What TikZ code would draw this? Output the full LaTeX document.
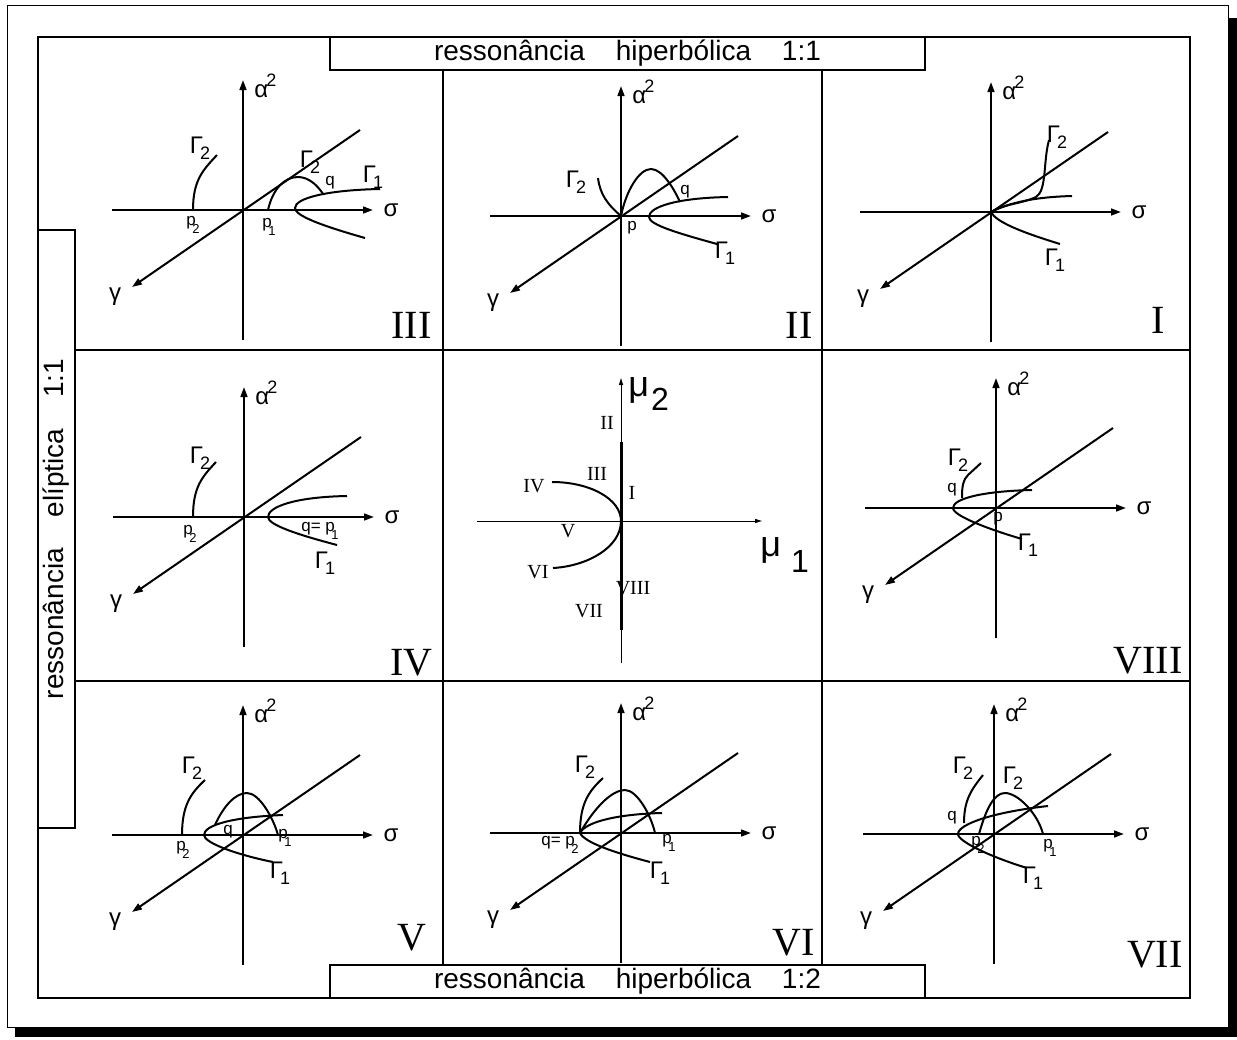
\documentclass[tikz,border=0pt]{standalone}
\usepackage{fontspec}
\setmainfont{Liberation Sans}
\newfontfamily\romanfont{Liberation Serif}
\usetikzlibrary{arrows.meta, positioning}

\newcommand\Gam[1]{Γ\kern-0.12em\raisebox{-0.5ex}{\fontsize{9}{9}\selectfont #1}}
\newcommand\psub[2]{#1\kern-0.2em\raisebox{-0.8ex}{\fontsize{6.5}{6.5}\selectfont #2}}

\begin{document}
\begin{tikzpicture}[
    x=0.5pt, y=-0.5pt,
    axis/.style={line width=1pt, -{Triangle[length=5pt, width=3.4pt]}},
    thinaxis/.style={line width=0.5pt, -{Triangle[length=3.5pt, width=2pt]}},
    curve/.style={line width=1pt},
    gridline/.style={line width=1.1pt},
    lbl/.style={inner sep=0pt, font=\fontsize{12}{12}\selectfont},
    ptlbl/.style={inner sep=0pt, font=\fontsize{8.5}{8.5}\selectfont},
    bigroman/.style={inner sep=0pt, anchor=base east, font=\romanfont\fontsize{20}{20}\selectfont},
    smallroman/.style={inner sep=0pt, font=\romanfont\fontsize{10}{10}\selectfont},
    mulbl/.style={inner sep=0pt, anchor=base west, font=\fontsize{18}{18}\selectfont},
    labelbox/.style={draw, fill=white, line width=1.1pt, inner sep=0pt, font=\fontsize{14}{14}\selectfont},
    axes/.pic={
        \draw[axis] (0,130) -- (0,-130);
        \draw[axis] (-131,0) -- (130,0);
        \draw[axis] (117,-80) -- (-111,77);
        \node[lbl, anchor=west] (alpha) at (11,-124) {α\kern-0.08em\raisebox{0.85ex}{\fontsize{9}{9}\selectfont 2}};
        \node[lbl] (sigma) at (148,0) {σ};
        \node[lbl] (gamma) at (-128,87) {γ};
    },
]
\useasboundingbox (0,0) rectangle (1237,1039);

% page with shadow
\fill (15,1028) rectangle (1237,1037);
\fill (1229,18) rectangle (1237,1037);
\draw[line width=0.5pt] (7,5) rectangle (1228,1027);

% grid
\draw[gridline] (38,37) rectangle (1190,998);
\draw[gridline] (443,37) -- (443,998);
\draw[gridline] (822,37) -- (822,998);
\draw[gridline] (38,350) -- (1190,350);
\draw[gridline] (38,681) -- (1190,681);

\node[labelbox, minimum width=297.5pt, minimum height=16.5pt] (hyptop) at (627.5,53.5) {ressonância\hspace{1.1em}hiperbólica\hspace{1.1em}1:1};
\node[labelbox, minimum width=297.5pt, minimum height=16.5pt] (hypbot) at (627.5,981.5) {ressonância\hspace{1.1em}hiperbólica\hspace{1.1em}1:2};
\node[labelbox, rotate=90, minimum width=299pt, minimum height=18.5pt] (ell) at (56.5,529) {ressonância\hspace{1.1em}elíptica\hspace{1.1em}1:1};

% III
\pic (pIII) at (243,210) {axes};
\begin{scope}[shift={(243,210)}]
\draw[curve] (-50,0) .. controls (-50,-30) and (-40,-40) .. (-26,-55);
\draw[curve] (25,0) .. controls (30,-22) and (42,-33) .. (55,-33) .. controls (66,-33) and (75,-24) .. (80,-16);
\draw[curve] (137,-21) .. controls (85,-20) and (52,-12) .. (52,-2) .. controls (52,6) and (80,16) .. (122,28);
\node[lbl] (g2a) at (-43,-62) {\Gam{2}};
\node[lbl] (g2b) at (67,-48) {\Gam{2}};
\node[lbl] (g1) at (130,-33) {\Gam{1}};
\node[ptlbl] (q) at (87,-27) {q};
\node[ptlbl] (p2) at (-50,15) {\psub{p}{2}};
\node[ptlbl] (p1) at (26,17) {\psub{p}{1}};
\end{scope}
\node[bigroman] (rIII) at (432,338) {III};

% II
\pic (pII) at (621,216) {axes};
\begin{scope}[shift={(621,216)}]
\draw[curve] (-23,-38) .. controls (-21,-22) and (-14,-12) .. (0,0);
\draw[curve] (0,0) .. controls (5,-25) and (18,-47) .. (30,-47) .. controls (42,-47) and (54,-25) .. (59,-14);
\draw[curve] (107,-19) .. controls (55,-18) and (28,-9) .. (28,1) .. controls (28,9) and (60,18) .. (96,28);
\node[lbl] (g2) at (-45,-34) {\Gam{2}};
\node[lbl] (g1) at (104,37) {\Gam{1}};
\node[ptlbl] (q) at (64,-24) {q};
\node[ptlbl] (p) at (11,12) {p};
\end{scope}
\node[bigroman] (rII) at (813,338) {II};

% I
\pic (pI) at (991,212) {axes};
\begin{scope}[shift={(991,212)}]
\draw[curve] (58,-72) .. controls (52,-50) and (56,-22) .. (45,-15) .. controls (30,-8) and (12,-8) .. (0,0);
\draw[curve] (0,0) .. controls (20,-10) and (45,-15) .. (81,-16);
\draw[curve] (0,0) .. controls (5,10) and (30,20) .. (69,32);
\node[lbl] (g2) at (66,-75) {\Gam{2}};
\node[lbl] (g1) at (64,48) {\Gam{1}};
\end{scope}
\node[bigroman] (rI) at (1165,333) {I};

% IV
\pic (pIV) at (244,517) {axes};
\begin{scope}[shift={(244,517)}]
\draw[curve] (-51,0) .. controls (-51,-30) and (-42,-40) .. (-28,-55);
\draw[curve] (103,-21) .. controls (50,-20) and (24,-10) .. (24,0) .. controls (24,8) and (55,18) .. (93,28);
\node[lbl] (g2) at (-44,-59) {\Gam{2}};
\node[lbl] (g1) at (81,46) {\Gam{1}};
\node[ptlbl] (p2) at (-54,17) {\psub{p}{2}};
\node[ptlbl] (qp) at (76,14) {q= \psub{p}{1}};
\end{scope}
\node[bigroman] (rIV) at (433,675) {IV};

% bifurcation diagram
\begin{scope}[shift={(621,521)}]
\draw[thinaxis] (0,142) -- (0,-143);
\draw[thinaxis] (-144,0) -- (141,0);
\draw[line width=1.5pt] (0,-79) -- (0,109);
\draw[curve] (-69,-39) .. controls (-31,-39) and (0,-22) .. (0,0) .. controls (0,26) and (-33,45) .. (-68,47);
\end{scope}
\node[mulbl] (mu2) at (628,396) {μ\kern1pt\raisebox{-7pt}{\fontsize{16}{16}\selectfont 2}};
\node[mulbl] (mu1) at (760,556) {μ\kern5pt\raisebox{-8pt}{\fontsize{16}{16}\selectfont 1}};
\node[smallroman] (sII) at (607,423) {II};
\node[smallroman] (sIII) at (597,474) {III};
\node[smallroman] (sIV) at (534,486) {IV};
\node[smallroman] (sI) at (632,493) {I};
\node[smallroman] (sV) at (568,531) {V};
\node[smallroman] (sVI) at (538,572) {VI};
\node[smallroman] (sVIII) at (633,588) {VIII};
\node[smallroman] (sVII) at (589,611) {VII};

% VIII
\pic (pVIII) at (996,508) {axes};
\begin{scope}[shift={(996,508)}]
\draw[curve] (36,-18) .. controls (-10,-17) and (-43,-10) .. (-43,0) .. controls (-43,8) and (-5,22) .. (26,31);
\draw[curve] (-34,-10) .. controls (-34,-22) and (-33,-28) .. (-28,-33) -- (-15,-45);
\node[lbl] (g2) at (-38,-48) {\Gam{2}};
\node[lbl] (g1) at (32,37) {\Gam{1}};
\node[ptlbl] (q) at (-44,-18) {q};
\node[ptlbl] (p) at (2,11) {p};
\end{scope}
\node[bigroman] (rVIII) at (1183,673) {VIII};

% V
\pic (pV) at (243,835) {axes};
\begin{scope}[shift={(243,835)}]
\draw[curve] (-61,0) .. controls (-61,-30) and (-52,-42) .. (-38,-55);
\draw[curve] (40,-20) .. controls (-10,-18) and (-39,-10) .. (-39,0) .. controls (-39,8) and (-5,20) .. (30,27);
\draw[curve] (-28,-10) .. controls (-20,-28) and (-8,-42) .. (4,-42) .. controls (16,-42) and (30,-18) .. (35,0);
\node[lbl] (g2) at (-51,-67) {\Gam{2}};
\node[lbl] (g1) at (37,38) {\Gam{1}};
\node[ptlbl] (p2) at (-60,15) {\psub{p}{2}};
\node[ptlbl] (q) at (-15,-3) {q};
\node[ptlbl] (p1) at (42,3) {\psub{p}{1}};
\end{scope}
\node[bigroman] (rV) at (427,950) {V};

% VI
\pic (pVI) at (621,833) {axes};
\begin{scope}[shift={(621,833)}]
\draw[curve] (-41,0) .. controls (-41,-30) and (-32,-42) .. (-18,-55);
\draw[curve] (-41,0) .. controls (-25,-28) and (-8,-43) .. (4,-43) .. controls (16,-43) and (30,-18) .. (34,0);
\draw[curve] (41,-20) .. controls (0,-19) and (-35,-12) .. (-41,0) .. controls (-36,10) and (-5,20) .. (29,29);
\node[lbl] (g2) at (-36,-66) {\Gam{2}};
\node[lbl] (g1) at (39,40) {\Gam{1}};
\node[ptlbl] (qp) at (-61,12) {q= \psub{p}{2}};
\node[ptlbl] (p1) at (48,10) {\psub{p}{1}};
\end{scope}
\node[bigroman] (rVI) at (815,955) {VI};

% VII
\pic (pVII) at (994,834) {axes};
\begin{scope}[shift={(994,834)}]
\draw[curve] (54,-28) .. controls (0,-22) and (-36,-10) .. (-36,0) .. controls (-36,8) and (0,24) .. (33,34);
\draw[curve] (-30,-11) .. controls (-30,-35) and (-22,-45) .. (-11,-59);
\draw[curve] (-15,0) .. controls (-8,-25) and (0,-41) .. (11,-41) .. controls (24,-41) and (44,-20) .. (49,0);
\node[lbl] (g2a) at (-31,-66) {\Gam{2}};
\node[lbl] (g2b) at (19,-56) {\Gam{2}};
\node[lbl] (g1) at (39,44) {\Gam{1}};
\node[ptlbl] (q) at (-42,-16) {q};
\node[ptlbl] (p2) at (-16,11) {\psub{p}{2}};
\node[ptlbl] (p1) at (56,14) {\psub{p}{1}};
\end{scope}
\node[bigroman] (rVII) at (1183,967) {VII};

\end{tikzpicture}
\end{document}
